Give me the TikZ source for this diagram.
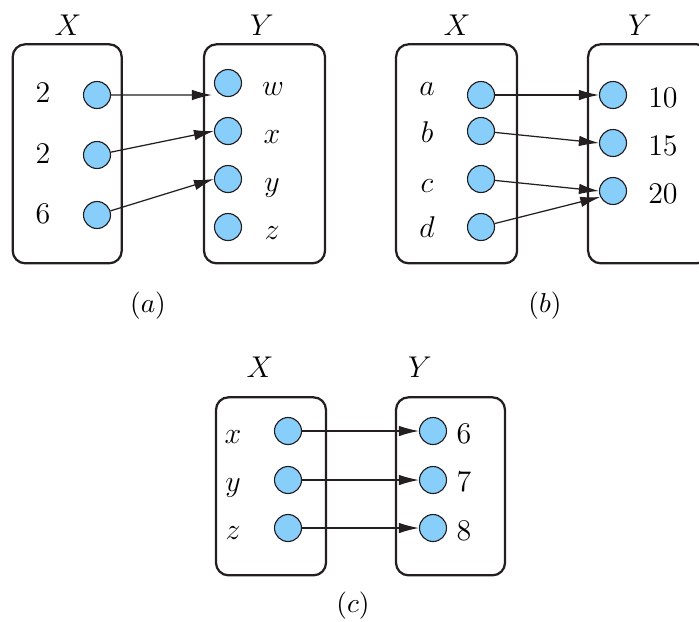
\documentclass[tikz,border=0pt]{standalone}
\usetikzlibrary{arrows.meta}
\definecolor{dotblue}{RGB}{135,206,250}
\definecolor{ink}{RGB}{35,31,32}
\tikzset{
  dot/.style={circle, draw=ink, line width=0.45pt, fill=dotblue,
              minimum size=10.8pt, inner sep=0pt},
  setbox/.style={rectangle, rounded corners=5pt, draw=ink, line width=0.9pt,
                 inner sep=0pt},
  lbl/.style={font=\fontsize{12}{14}\selectfont, inner sep=0pt, anchor=base},
  ttl/.style={font=\fontsize{12.4}{15}\selectfont, inner sep=0pt, anchor=base},
  caption/.style={font=\fontsize{10.5}{12}\selectfont, inner sep=0pt},
  map/.style={draw=ink, line width=0.5pt, -{Latex[length=8pt,width=4.2pt]}},
}
\begin{document}
\begin{tikzpicture}[x=0.4pt,y=-0.4pt]
\useasboundingbox (0,0) rectangle (699,621);
\clip (0,0) rectangle (699,621);

% ---------- (a) ----------
\node[setbox, minimum width=43.6pt, minimum height=87.6pt] (XA) at (67.2,153.8) {};
\node[setbox, minimum width=48.4pt, minimum height=87.6pt] (YA) at (264.5,153.8) {};
\node[ttl] (tXA) at (68,35) {$X$};
\node[ttl] (tYA) at (262,35) {$Y$};

\node[dot] (a1) at (97,95) {};
\node[dot] (a2) at (97,155) {};
\node[dot] (a3) at (97,215) {};
\node[lbl] (la1) at (43,102) {$2$};
\node[lbl] (la2) at (43,163) {$2$};
\node[lbl] (la3) at (43,223) {$6$};

\node[dot] (aw) at (228,83) {};
\node[dot] (ax) at (228,131) {};
\node[dot] (ay) at (228,179) {};
\node[dot] (az) at (228,227) {};
\node[lbl] (law) at (273,95) {$w$};
\node[lbl] (lax) at (272,143) {$x$};
\node[lbl] (lay) at (272,191) {$y$};
\node[lbl] (laz) at (272,239) {$z$};

\draw[map] (a1) -- ([xshift=-0.8pt,yshift=-4.8pt]aw.west);
\draw[map] (a2) -- (ax.west);
\draw[map] (a3) -- (ay.west);

\node[caption] (capA) at (148,306) {$(a)$};

% ---------- (b) ----------
\node[setbox, minimum width=48.4pt, minimum height=87.6pt] (XB) at (456.6,153.8) {};
\node[setbox, minimum width=48.4pt, minimum height=87.6pt] (YB) at (648.6,153.8) {};
\node[ttl] (tXB) at (457,35) {$X$};
\node[ttl] (tYB) at (640,35) {$Y$};

\node[dot] (ba) at (481,95) {};
\node[dot] (bb) at (481,131) {};
\node[dot] (bc) at (481,179) {};
\node[dot] (bd) at (481,227) {};
\node[lbl] (lba) at (427,95) {$a$};
\node[lbl] (lbb) at (427,142) {$b$};
\node[lbl] (lbc) at (427,192) {$c$};
\node[lbl] (lbd) at (427,237) {$d$};

\node[dot] (b10) at (613,95) {};
\node[dot] (b15) at (613,143) {};
\node[dot] (b20) at (613,191) {};
\node[lbl] (lb10) at (663,107) {$10$};
\node[lbl] (lb15) at (663,155) {$15$};
\node[lbl] (lb20) at (663,203) {$20$};

\draw[map] (ba) -- (b10.west);
\draw[map] (bb) -- (b15.west);
\draw[map] (bc) -- (b20.west);
\draw[map] (bd) -- (b20.205);

\node[caption] (capB) at (545,306) {$(b)$};

% ---------- (c) ----------
\node[setbox, minimum width=44pt, minimum height=71.2pt] (XC) at (271,486.3) {};
\node[setbox, minimum width=43.6pt, minimum height=71.2pt] (YC) at (450.5,486.3) {};
\node[ttl] (tXC) at (260,377) {$X$};
\node[ttl] (tYC) at (420,377) {$Y$};

\node[dot] (cx) at (288,431) {};
\node[dot] (cy) at (288,480) {};
\node[dot] (cz) at (288,528) {};
\node[lbl] (lcx) at (233,443) {$x$};
\node[lbl] (lcy) at (233,491) {$y$};
\node[lbl] (lcz) at (233,539) {$z$};

\node[dot] (c6) at (433,431) {};
\node[dot] (c7) at (433,480) {};
\node[dot] (c8) at (433,528) {};
\node[lbl, anchor=base west] (lc6) at (456,443) {$6$};
\node[lbl, anchor=base west] (lc7) at (456,491) {$7$};
\node[lbl, anchor=base west] (lc8) at (456,540) {$8$};

\draw[map] (cx) -- (c6);
\draw[map] (cy) -- (c7);
\draw[map] (cz) -- (c8);

\node[caption] (capC) at (353,606) {$(c)$};
\end{tikzpicture}
\end{document}
